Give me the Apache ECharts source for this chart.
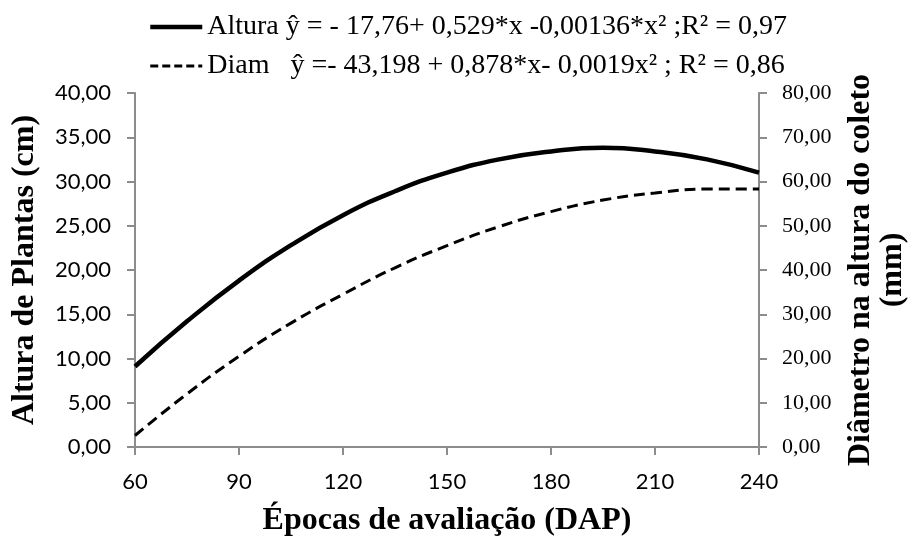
<!DOCTYPE html>
<html>
<head>
<meta charset="utf-8">
<script src="https://cdn.jsdelivr.net/npm/echarts@6/dist/echarts.min.js"></script>
<style>html,body{margin:0;padding:0;background:#fff}#c{width:917px;height:542px}</style>
</head>
<body>
<div id="c"></div>
<script>
// Days after planting (x)
const epocas = [60, 75, 90, 105, 120, 135, 150, 165, 180, 195, 210, 225, 240];
// Plant height (cm), left axis
const altura = [9.1, 14.2, 18.8, 22.8, 26.2, 28.9, 31.0, 32.5, 33.4, 33.8, 33.4, 32.5, 31.0];
// Collar diameter (mm), right axis
const diam = [2.6, 12.0, 20.5, 28.0, 34.5, 40.5, 45.5, 49.8, 53.2, 55.8, 57.4, 58.3, 58.3];
const xTicks = [60, 90, 120, 150, 180, 210, 240];
const legendAltura = 'Altura ŷ = - 17,76+ 0,529*x -0,00136*x² ;R² = 0,97';
const legendDiam = 'Diam   ŷ =- 43,198 + 0,878*x- 0,0019x² ; R² = 0,86';

const axisGray = '#8c8c8c';
const fmt = v => v.toFixed(2).replace('.', ',');
const chart = echarts.init(document.getElementById('c'), null, {renderer: 'canvas'});
chart.setOption({
  animation: false,
  backgroundColor: '#fff',
  grid: {left: 135, right: 148, top: 93, bottom: 91, containLabel: false},
  legend: {
    orient: 'vertical', left: 143, top: 8, itemGap: 11,
    itemWidth: 52, itemHeight: 14, itemTextGap: 6,
    itemStyle: {opacity: 0},
    textStyle: {fontFamily: 'Liberation Serif', fontSize: 28, color: '#000'},
    data: [
      {name: 'Altura', lineStyle: {width: 4.5, color: '#000', type: 'solid'}},
      {name: 'Diam', lineStyle: {width: 3, color: '#000', type: [8, 4]}}
    ],
    formatter: n => n === 'Altura' ? legendAltura : legendDiam
  },
  xAxis: {
    type: 'value', min: 60, max: 240, interval: 30,
    name: 'Épocas de avaliação (DAP)', nameLocation: 'middle', nameGap: 58,
    nameTextStyle: {fontFamily: 'Liberation Serif', fontWeight: 'bold', fontSize: 32, color: '#000'},
    axisLine: {show: true, lineStyle: {color: axisGray, width: 2}},
    axisTick: {show: true, length: 8, lineStyle: {color: axisGray, width: 2}},
    axisLabel: {fontFamily: 'Lato', fontSize: 22, color: '#000', margin: 24,
      formatter: v => xTicks.includes(v) ? String(v) : ''},
    splitLine: {show: false}
  },
  yAxis: [{
    type: 'value', min: 0, max: 40, interval: 5, position: 'left',
    name: 'Altura de Plantas (cm)', nameLocation: 'middle', nameGap: 94, nameRotate: 90,
    nameTextStyle: {fontFamily: 'Liberation Serif', fontWeight: 'bold', fontSize: 32, color: '#000'},
    axisLine: {show: true, lineStyle: {color: axisGray, width: 2}},
    axisTick: {show: true, length: 8, lineStyle: {color: axisGray, width: 2}},
    axisLabel: {fontFamily: 'Lato', fontSize: 22, color: '#000', margin: 24, formatter: fmt},
    splitLine: {show: false}
  }, {
    type: 'value', min: 0, max: 80, interval: 10, position: 'right',
    name: 'Diâmetro na altura do coleto\n(mm)', nameLocation: 'middle', nameGap: 86, nameRotate: 90,
    nameTextStyle: {fontFamily: 'Liberation Serif', fontWeight: 'bold', fontSize: 32, color: '#000', lineHeight: 32, align: 'center'},
    axisLine: {show: true, lineStyle: {color: axisGray, width: 2}},
    axisTick: {show: true, length: 8, lineStyle: {color: axisGray, width: 2}},
    axisLabel: {fontFamily: 'Liberation Serif', fontSize: 22, color: '#000', margin: 23, formatter: fmt},
    splitLine: {show: false}
  }],
  series: [{
    name: 'Altura', type: 'line', yAxisIndex: 0, smooth: true, symbol: 'none',
    data: epocas.map((x, i) => [x, altura[i]]),
    lineStyle: {color: '#000', width: 4.5, type: 'solid'},
    itemStyle: {color: '#000'}
  }, {
    name: 'Diam', type: 'line', yAxisIndex: 1, smooth: true, symbol: 'none',
    data: epocas.map((x, i) => [x, diam[i]]),
    lineStyle: {color: '#000', width: 3, type: [11, 6]},
    itemStyle: {color: '#000'}
  }]
});
</script>
</body>
</html>
